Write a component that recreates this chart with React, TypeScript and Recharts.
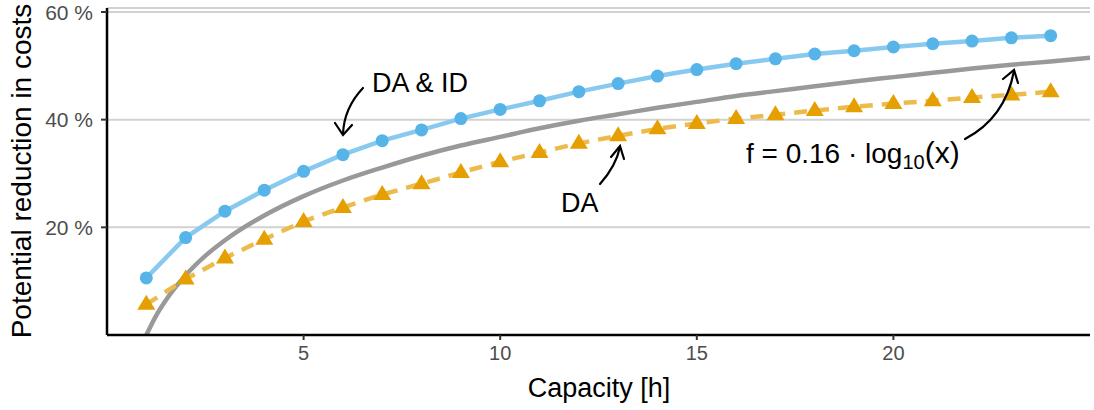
import {
  CartesianGrid,
  ComposedChart,
  Line,
  XAxis,
  YAxis,
} from "recharts";

// capacity in hours
const capacity = [1, 2, 3, 4, 5, 6, 7, 8, 9, 10, 11, 12, 13, 14, 15, 16, 17, 18, 19, 20, 21, 22, 23, 24];

// day-ahead + intraday
const daId = [
  0.106, 0.181, 0.23, 0.269, 0.304, 0.335, 0.361, 0.381, 0.402, 0.419, 0.435, 0.452,
  0.467, 0.481, 0.493, 0.504, 0.513, 0.522, 0.528, 0.535, 0.541, 0.546, 0.552, 0.556,
];

// day-ahead only
const da = [
  0.057, 0.104, 0.143, 0.178, 0.211, 0.237, 0.261, 0.281, 0.302, 0.322, 0.339, 0.356,
  0.37, 0.383, 0.393, 0.402, 0.409, 0.417, 0.424, 0.43, 0.435, 0.441, 0.446, 0.452,
];

// fitted curve
const fitX = [1, 1.1, 1.25, 1.5, 2, 2.5, 3, 4, 5, 6, 7, 8, 9, 10, 11, 12, 13, 14, 15, 16, 17, 18, 19, 20, 21, 22, 23, 24, 25];
const fitY = [
  0, 0.015, 0.036, 0.065, 0.111, 0.147, 0.176, 0.222, 0.258, 0.287, 0.311, 0.333, 0.352,
  0.368, 0.384, 0.398, 0.41, 0.422, 0.433, 0.444, 0.453, 0.462, 0.471, 0.479, 0.487,
  0.495, 0.502, 0.508, 0.515,
];

const xTicks = [5, 10, 15, 20];
const yTicks = [0.2, 0.4, 0.6];

const rows = capacity.map((x, i) => ({ x, daId: daId[i], da: da[i] }));
const fitRows = fitX.map((x, i) => ({ x, fit: fitY[i] }));

const BLUE = "#56B4E9";
const ORANGE = "#E69F00";

const Triangle = (props: any) => {
  const { cx, cy } = props;
  if (cx == null || cy == null) return null;
  return (
    <path
      key={`tri-${cx}`}
      d={`M${cx},${cy - 9.5} L${cx - 9},${cy + 5.5} L${cx + 9},${cy + 5.5} Z`}
      fill={ORANGE}
    />
  );
};

const arrowStyle = { fill: "none", stroke: "#000", strokeWidth: 2.2, strokeLinecap: "round" as const };

export default function App() {
  return (
    <div
      style={{
        position: "absolute",
        left: 0,
        top: 0,
        width: 1094,
        height: 410,
        background: "#fff",
        fontFamily: "'Liberation Sans', Arial, sans-serif",
      }}
    >
      <ComposedChart width={1094} height={410} data={rows} margin={{ top: 8, right: 4, bottom: 0, left: 0 }}>
        <CartesianGrid vertical={false} stroke="#d2d2d2" strokeWidth={2} />
        <XAxis
          dataKey="x"
          type="number"
          domain={[0, 25]}
          ticks={xTicks}
          height={75}
          axisLine={{ stroke: "#000", strokeWidth: 2.5 }}
          tickLine={{ stroke: "#333", strokeWidth: 2 }}
          tickSize={5}
          tickMargin={6}
          tick={{ fill: "#4d4d4d", fontSize: 20 }}
        />
        <YAxis
          type="number"
          domain={[0, 0.6074]}
          ticks={yTicks}
          width={107}
          allowDataOverflow
          axisLine={{ stroke: "#000", strokeWidth: 2.5 }}
          tickLine={{ stroke: "#333", strokeWidth: 2 }}
          tickSize={6}
          tickMargin={8}
          tick={{ fill: "#4d4d4d", fontSize: 21 }}
          tickFormatter={(v: number) => `${Math.round(v * 100)} %`}
        />
        <Line
          data={fitRows}
          dataKey="fit"
          type="monotone"
          stroke="#999999"
          strokeWidth={4.5}
          dot={false}
          activeDot={false}
          isAnimationActive={false}
        />
        <Line
          dataKey="da"
          type="linear"
          stroke="#EDBB4C"
          strokeWidth={4.5}
          strokeDasharray="13 9"
          dot={<Triangle />}
          activeDot={false}
          isAnimationActive={false}
        />
        <Line
          dataKey="daId"
          type="linear"
          stroke="#88CAEF"
          strokeWidth={4.5}
          dot={{ r: 6.5, fill: BLUE, stroke: "none", strokeWidth: 0 }}
          activeDot={false}
          isAnimationActive={false}
        />
      </ComposedChart>

      <svg
        width={1094}
        height={410}
        style={{ position: "absolute", left: 0, top: 0, pointerEvents: "none" }}
      >
        <text x={31} y={171} transform="rotate(-90 31 171)" textAnchor="middle" fontSize={28} fill="#000">
          Potential reduction in costs
        </text>
        <text x={599} y={397} textAnchor="middle" fontSize={27} fill="#000">
          Capacity [h]
        </text>

        <text x={372} y={92} fontSize={27} fill="#000">DA &amp; ID</text>
        <path d="M363,88 Q344,108 343,134" {...arrowStyle} />
        <path d="M335,123 L343,135 L352,125" {...arrowStyle} />

        <text x={561} y={212} fontSize={27} fill="#000">DA</text>
        <path d="M600,184 Q616,166 620,147" {...arrowStyle} />
        <path d="M611,157 L620,146 L624,159" {...arrowStyle} />

        <text x={746} y={163} fontSize={28} fill="#000">
          f = 0.16 · log
          <tspan fontSize={20} dy={6}>10</tspan>
          <tspan fontSize={30} dy={-6}>(x)</tspan>
        </text>
        <path d="M965,139 Q1005,118 1014,71" {...arrowStyle} />
        <path d="M1003,79 L1014,70 L1018,83" {...arrowStyle} />
      </svg>
    </div>
  );
}
